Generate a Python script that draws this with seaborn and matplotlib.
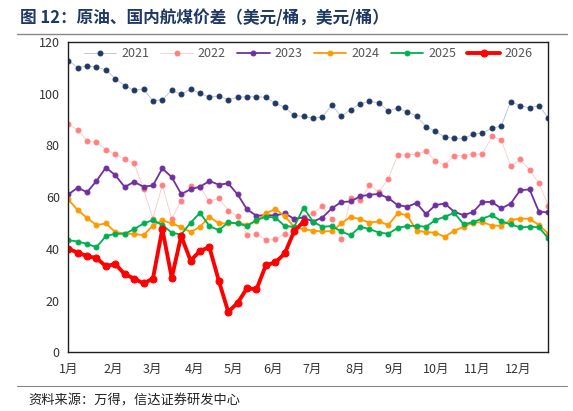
import matplotlib
matplotlib.use("Agg")
import matplotlib.pyplot as plt
import seaborn as sns
import pandas as pd
import numpy as np

sns.set_style("white")
plt.rcParams['font.family'] = ['Noto Sans CJK SC', 'DejaVu Sans']

y2021 = [112.8,110.1,110.6,110.3,109.2,105.8,103.1,101.3,101.8,97.2,97.7,101.3,99.7,101.7,100.1,98.6,99.1,97.7,98.6,98.8,98.8,98.6,96.3,94.7,91.6,91.2,90.5,91.0,95.6,91.2,93.8,96.0,97.0,96.5,93.3,94.5,92.9,91.4,87.2,85.4,83.2,82.7,82.7,84.3,84.8,86.6,87.5,96.9,95.4,94.5,95.4,90.5]
y2022 = [88.4,85.9,81.8,81.4,78.2,76.6,74.6,73.0,63.1,51.7,64.6,51.5,58.6,64.1,64.0,58.3,59.6,54.8,52.6,45.5,45.8,43.4,43.6,45.8,51.7,52.4,53.7,56.6,51.5,43.9,59.7,58.7,64.6,62.1,67.1,76.3,76.3,76.6,77.8,73.9,72.4,76.0,76.0,76.6,76.6,83.6,82.1,72.0,74.6,70.5,65.3,56.6]
y2023 = [61.0,63.6,61.9,66.2,71.4,68.5,63.9,65.9,64.0,64.5,71.1,67.7,61.2,63.0,64.0,66.2,64.8,65.3,61.0,55.2,52.8,53.0,52.9,53.7,51.6,52.1,50.5,52.1,55.6,58.1,58.3,60.3,60.9,61.2,59.6,56.9,56.3,57.7,53.4,56.9,57.5,54.3,53.0,54.2,58.1,58.1,55.6,57.5,62.6,63.0,54.3,54.1]
y2024 = [59.1,55.0,51.9,49.2,49.8,46.5,45.9,45.7,45.3,49.0,51.0,49.8,48.4,46.5,48.5,52.4,49.8,49.8,50.1,49.3,50.7,53.7,55.4,52.6,48.5,47.5,47.0,46.7,46.8,49.8,52.4,51.4,50.1,50.6,49.2,53.7,53.0,47.0,46.5,46.2,44.6,47.0,48.5,50.1,50.3,49.0,48.9,51.1,51.7,51.6,49.2,45.8]
y2025 = [43.4,42.8,41.9,40.6,44.9,45.8,45.8,47.6,49.8,51.1,49.2,46.2,45.5,50.1,53.9,48.8,47.2,50.2,49.8,48.8,51.1,52.4,52.1,48.8,48.5,55.9,50.5,48.5,48.8,46.7,45.2,48.5,47.6,46.3,45.8,48.1,48.8,48.9,48.5,51.1,52.4,53.9,49.5,50.3,51.7,53.0,50.7,49.4,48.3,48.5,48.3,44.0]
y2026 = [40.1,38.5,37.2,36.4,33.3,34.1,30.2,28.5,26.6,28.5,47.6,28.8,45.0,35.4,39.2,40.6,27.6,15.6,19.1,24.8,24.3,33.7,34.7,38.2,46.8,50.5]
months = ["1月","2月","3月","4月","5月","6月","7月","8月","9月","10月","11月","12月"]
month_pos = [0,4.8,8.9,13.4,17.5,21.8,25.9,30.5,34.6,39.1,43.4,47.8]

series = {"2021": y2021, "2022": y2022, "2023": y2023, "2024": y2024, "2025": y2025, "2026": y2026}
styles = {
    "2021": dict(color="#1f3864", lw=0.6, ms=3.5, lc="#b4c0d4"),
    "2022": dict(color="#ff8080", lw=0.6, ms=3.5, lc="#ffc8c8"),
    "2023": dict(color="#7030a0", lw=1.3, ms=3.5, lc="#7030a0"),
    "2024": dict(color="#ff9900", lw=1.3, ms=3.5, lc="#ff9900"),
    "2025": dict(color="#00b050", lw=1.3, ms=3.5, lc="#00b050"),
    "2026": dict(color="#ff0000", lw=2.8, ms=5, lc="#ff0000"),
}

fig = plt.figure(figsize=(5.73, 4.11), dpi=100)
ax = fig.add_axes([0.119, 0.143, 0.838, 0.755])
for name, vals in series.items():
    s = styles[name]
    df = pd.DataFrame({"w": np.arange(len(vals)), "v": vals})
    sns.lineplot(data=df, x="w", y="v", ax=ax, color=s["lc"], lw=s["lw"],
                 marker="o", markersize=s["ms"], markerfacecolor=s["color"],
                 markeredgecolor=s["color"], label=name)

ax.set_xlim(0, 51)
ax.set_ylim(0, 120)
ax.set_yticks(range(0, 121, 20))
ax.set_xticks(month_pos)
ax.set_xticklabels(months)
ax.set_xlabel("")
ax.set_ylabel("")
ax.tick_params(labelsize=9, colors="#333333", length=0)
ax.tick_params(axis="x", pad=8)
ax.tick_params(axis="y", pad=6)
for sp in ax.spines.values():
    sp.set_color("#1f1f1f")
    sp.set_linewidth(1.0)
leg = ax.legend(loc="upper center", ncol=6, frameon=False, fontsize=9,
                handlelength=2.6, columnspacing=0.9, handletextpad=0.4,
                bbox_to_anchor=(0.5, 1.02), labelcolor="#555555")

fig.text(0.035, 0.955, "图 12：原油、国内航煤价差（美元/桶，美元/桶）", fontsize=12,
         fontweight="bold", color="#1f3864", va="center")
fig.add_artist(plt.Line2D([0.03, 0.99], [0.918, 0.918], color="#888888", lw=1))
fig.add_artist(plt.Line2D([0.03, 0.99], [0.062, 0.062], color="#888888", lw=0.8))
fig.text(0.05, 0.025, "资料来源：万得，信达证券研发中心", fontsize=9.5, style="italic",
         color="#222222", va="center")
fig.savefig("out.png", dpi=100)
